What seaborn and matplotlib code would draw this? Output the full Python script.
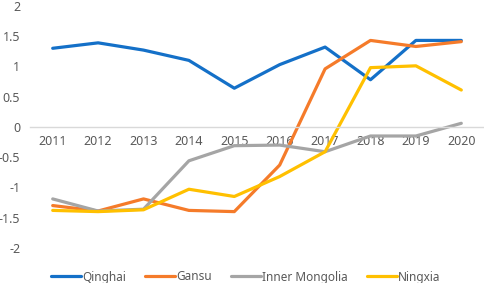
import numpy as np
import pandas as pd
import seaborn as sns
import matplotlib
matplotlib.use("Agg")
import matplotlib.pyplot as plt

years = [2011, 2012, 2013, 2014, 2015, 2016, 2017, 2018, 2019, 2020]
qinghai = [1.30, 1.39, 1.27, 1.10, 0.64, 1.03, 1.32, 0.78, 1.43, 1.43]
gansu = [-1.30, -1.39, -1.19, -1.38, -1.40, -0.63, 0.96, 1.43, 1.33, 1.41]
inner_mongolia = [-1.19, -1.39, -1.36, -0.56, -0.31, -0.30, -0.41, -0.15, -0.15, 0.06]
ningxia = [-1.38, -1.40, -1.37, -1.03, -1.15, -0.82, -0.41, 0.98, 1.01, 0.61]

names = ["Qinghai", "Gansu", "Inner Mongolia", "Ningxia"]
colors = ["#1470C8", "#F57B2A", "#A5A5A5", "#FFC000"]

df = pd.DataFrame({"year": years, "Qinghai": qinghai, "Gansu": gansu,
                   "Inner Mongolia": inner_mongolia, "Ningxia": ningxia})
long = df.melt(id_vars="year", var_name="region", value_name="value")
# categorical x positions like Excel category axis
long["x"] = long["year"].map({y: i for i, y in enumerate(years)})

sns.set_style("white")
plt.rcParams["font.family"] = ["Noto Sans", "DejaVu Sans"]

fig = plt.figure(figsize=(4.84, 2.83), dpi=100)
ax = fig.add_axes([0.062, 0.124, 0.938, 0.855])

sns.lineplot(data=long, x="x", y="value", hue="region", hue_order=names,
             palette=colors, linewidth=2.3, ax=ax, legend=True)

ax.set_xlim(-0.5, len(years) - 0.5)
ax.set_ylim(-2, 2)
ax.set_yticks(np.arange(-2, 2.01, 0.5))
ax.set_yticklabels(["-2", "-1.5", "-1", "-0.5", "0", "0.5", "1", "1.5", "2"])
ax.set_xticks(range(len(years)))
ax.set_xticklabels([str(y) for y in years])
ax.set_xlabel("")
ax.set_ylabel("")

for s in ["top", "right", "left"]:
    ax.spines[s].set_visible(False)
ax.spines["bottom"].set_position(("data", 0))
ax.spines["bottom"].set_color("#D9D9D9")
ax.spines["bottom"].set_linewidth(1)
ax.tick_params(axis="both", length=0, labelsize=9, colors="#595959")
ax.tick_params(axis="x", pad=6)
ax.tick_params(axis="y", pad=7)

handles, labels = ax.get_legend_handles_labels()
ax.get_legend().remove()
fig.legend(handles, labels, loc="center", bbox_to_anchor=(246 / 484, 1 - 277 / 283),
           ncol=4, frameon=False, fontsize=8.5, handlelength=2.5, handletextpad=0.15,
           columnspacing=1.6, labelcolor="#595959", borderaxespad=0, borderpad=0)

fig.savefig("out.png", dpi=100)
